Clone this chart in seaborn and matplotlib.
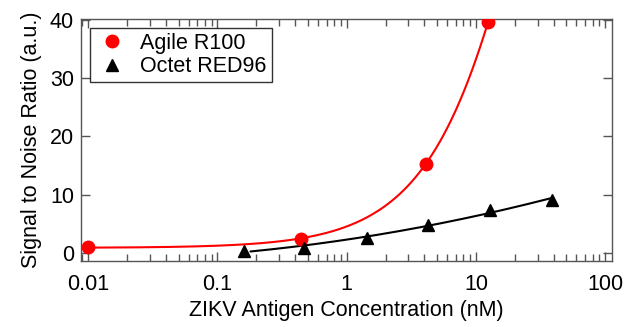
import numpy as np
import pandas as pd
import matplotlib
matplotlib.use("Agg")
import matplotlib.pyplot as plt
import seaborn as sns

# data
agile_conc = [0.01, 0.44, 4.1, 12.4]
agile_snr = [1.05, 2.3, 15.3, 39.5]
octet_conc = [0.16, 0.47, 1.43, 4.25, 12.8, 39.0]
octet_snr = [0.4, 0.9, 2.6, 4.7, 7.4, 9.1]
series_names = ["Agile R100", "Octet RED96"]

sns.set_style("ticks")
plt.rcParams['font.family'] = ['Liberation Sans', 'DejaVu Sans']
plt.rcParams['xtick.direction'] = 'in'
plt.rcParams['ytick.direction'] = 'in'
plt.rcParams['xtick.top'] = True
plt.rcParams['ytick.right'] = True
plt.rcParams['text.color'] = 'black'
plt.rcParams['axes.labelcolor'] = 'black'
plt.rcParams['xtick.labelcolor'] = 'black'
plt.rcParams['ytick.labelcolor'] = 'black'

spine_col = '#555555'
fs = 15.5

fig = plt.figure(figsize=(6.34, 3.27), dpi=100)
ax = fig.add_axes([0.1278, 0.2018, 0.8375, 0.7402])

# fit curves (least squares on the data above)
pa = np.polyfit(agile_conc, agile_snr, 2)
xa = np.logspace(np.log10(agile_conc[0]), np.log10(agile_conc[-1]), 200)
fit_a = pd.DataFrame({"x": xa, "y": np.polyval(pa, xa)})

po = np.polyfit(np.log10(octet_conc), octet_snr, 2)
xo = np.logspace(np.log10(0.18), np.log10(octet_conc[-1]), 200)
fit_o = pd.DataFrame({"x": xo, "y": np.polyval(po, np.log10(xo))})

sns.lineplot(data=fit_a, x="x", y="y", ax=ax, color='#ff0000', lw=1.5, legend=False)
sns.lineplot(data=fit_o, x="x", y="y", ax=ax, color='black', lw=1.5, legend=False)

ax.plot(agile_conc, agile_snr, 'o', color='#ff0000', ms=9, mec='#ff0000',
        label=series_names[0], zorder=5)
ax.plot(octet_conc, octet_snr, '^', color='black', ms=9, label=series_names[1], zorder=5)

ax.set_xscale('log')
ax.set_xlim(0.0088, 113)
ax.set_ylim(-1.4, 40.1)
ax.set_xticks([0.01, 0.1, 1, 10, 100])
ax.set_xticklabels(['0.01', '0.1', '1', '10', '100'])
ax.set_yticks([0, 10, 20, 30, 40])

ax.tick_params(axis='both', which='major', length=6.5, width=1, color=spine_col,
               labelsize=fs)
ax.tick_params(axis='x', which='major', pad=9)
ax.tick_params(axis='y', which='major', pad=5)
ax.tick_params(axis='x', which='minor', length=5, width=1, color=spine_col)
for s in ax.spines.values():
    s.set_color(spine_col)
    s.set_linewidth(1)

ax.set_xlabel("ZIKV Antigen Concentration (nM)", fontsize=fs, labelpad=4)
ax.set_ylabel("Signal to Noise Ratio (a.u.)", fontsize=fs, labelpad=6)

leg = ax.legend(loc='upper left', fontsize=fs, frameon=True, fancybox=False,
                edgecolor='black', borderaxespad=0.4, handletextpad=0.5,
                borderpad=0.25, labelspacing=0.1, handlelength=1.6)
leg.get_frame().set_linewidth(1)

fig.savefig("out.png", dpi=100)
